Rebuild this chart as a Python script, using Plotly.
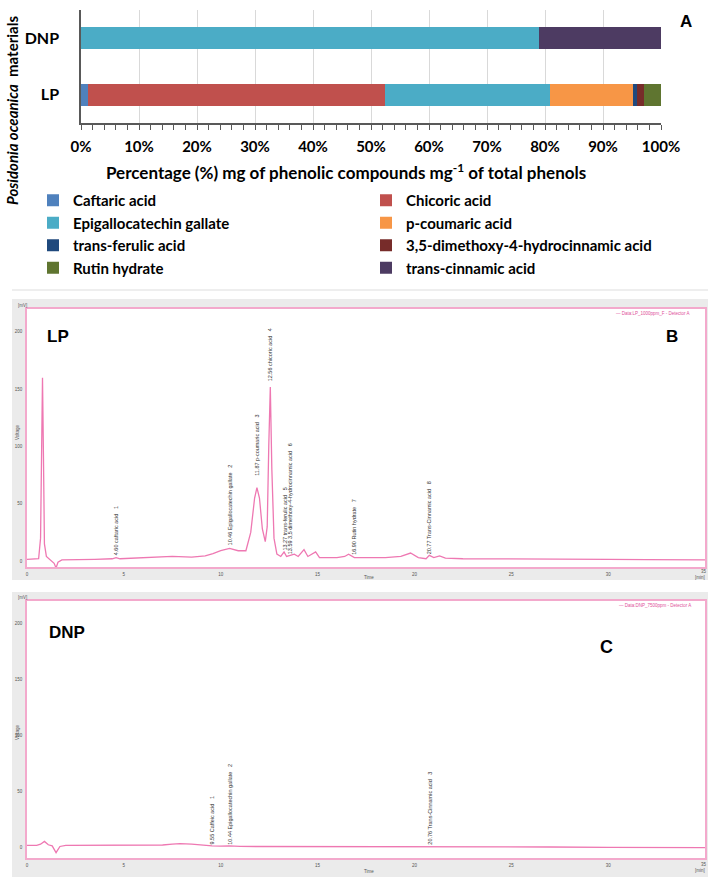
import plotly.graph_objects as go

W, H = 716, 879
def px(x): return x / W
def py(y): return 1 - y / H

# ---------------- Panel A data ----------------
materials = ['LP', 'DNP']
compounds = ['Caftaric acid', 'Chicoric acid', 'Epigallocatechin gallate', 'p-coumaric acid',
             'trans-ferulic acid', '3,5-dimethoxy-4-hydrocinnamic acid', 'Rutin hydrate',
             'trans-cinnamic acid']
caftaric = [1.2, 0.0]
chicoric = [51.2, 0.0]
egcg = [28.5, 79.0]
p_coumaric = [14.2, 0.0]
trans_ferulic = [0.8, 0.0]
dimethoxy = [1.2, 0.0]
rutin = [2.9, 0.0]
trans_cinnamic = [0.0, 21.0]
pct_ticks = [0, 10, 20, 30, 40, 50, 60, 70, 80, 90, 100]

# ---------------- Panel B data (LP chromatogram) ----------------
lp_time = [0, 0.3, 0.6, 0.7, 0.75, 0.8, 0.85, 0.9, 1.0, 1.2, 1.4, 1.5, 1.6, 1.8, 2.5, 3.5, 4.4,
           4.6, 4.8, 5.5, 6.5, 7.5, 8.5, 9.2, 9.6, 10.0, 10.46, 10.9, 11.3, 11.55, 11.75, 11.87,
           12.0, 12.15, 12.3, 12.4, 12.48, 12.56, 12.64, 12.75, 12.9, 13.1, 13.27, 13.4, 13.59,
           13.8, 14.0, 14.3, 14.5, 14.7, 14.9, 15.1, 15.5, 16.0, 16.4, 16.6, 16.9, 17.5, 18.5,
           19.3, 19.8, 20.2, 20.6, 20.77, 21.0, 21.3, 21.6, 22.5, 24, 26, 28, 30, 32, 34, 35]
lp_mv = [1.5, 1.5, 2, 20, 120, 160, 90, 15, 4, 1, -2, -6, -1, 1, 1, 1.5, 2,
         3, 2, 2.5, 3, 4, 3.5, 4.5, 6.5, 9, 11, 9, 9, 25, 55, 64,
         55, 28, 17, 30, 100, 152, 80, 20, 6, 4, 8, 4, 5,
         6, 4, 10, 4, 6, 8, 3, 3, 3, 4, 6, 3, 3, 3,
         4, 7, 3, 2, 5, 3, 4.5, 2.5, 2, 2, 1.5, 1.5, 1.5, 1.2, 1, 1]
lp_peak_times = [4.60, 10.46, 11.87, 12.56, 13.27, 13.59, 16.90, 20.77]
lp_peak_names = ['4.60 caftaric acid', '10.46 Epigallocatechin gallate', '11.87 p-coumaric acid',
                 '12.56 chicoric acid', '13.27 trans-ferulic acid',
                 '13.59 3,5 dimethoxy-4-hydrocinnamic acid', '16.90 Rutin hydrate',
                 '20.77 Trans-Cinnamic acid']
lp_peak_ids = ['1', '2', '3', '4', '5', '6', '7', '8']

# ---------------- Panel C data (DNP chromatogram) ----------------
dnp_time = [0, 0.5, 0.7, 0.9, 1.1, 1.3, 1.5, 1.7, 2.0, 3, 5, 7, 7.5, 7.9, 8.5, 9.0, 9.55,
            10.0, 10.44, 11, 12, 14, 16, 18, 20, 20.76, 21.5, 24, 27, 30, 33, 35]
dnp_mv = [1.5, 1.5, 2.5, 5, 2, 1, -5, 0.5, 1.5, 1.5, 1.5, 1.8, 2.5, 3, 2.5, 1.5, 1,
          0.8, 1, 0.5, 0.5, 0.3, 0.3, 0.3, 0.3, 0.4, 0.2, 0, 0, -0.3, -0.5, -0.5]
dnp_peak_times = [9.55, 10.44, 20.76]
dnp_peak_names = ['9.55 Caffeic acid', '10.44 Epigallocatechin gallate', '20.76 Trans-Cinnamic acid']
dnp_peak_ids = ['1', '2', '3']

mv_ticks = [0, 50, 100, 150, 200]
min_ticks = [0, 5, 10, 15, 20, 25, 30]

# ---------------- styles ----------------
colors = ['#4F81BD', '#C0504D', '#4BACC6', '#F79646', '#1F497D', '#772C2A', '#5F7530', '#4D3B62']
legend_of = ['legend', 'legend2', 'legend', 'legend2', 'legend', 'legend2', 'legend', 'legend2']
series = [caftaric, chicoric, egcg, p_coumaric, trans_ferulic, dimethoxy, rutin, trans_cinnamic]
lp_label_base = [3, 12, 73, 155, 7, 4, 4, 4]
dnp_label_base = [0, 0, 0]
TRACE = '#EE78B2'
FRAME = '#F3A9CC'
BODY = 'Lato'
ARIAL = 'Liberation Sans'

fig = go.Figure()
for name, vals, col, lg in zip(compounds, series, colors, legend_of):
    fig.add_trace(go.Bar(x=vals, y=materials, orientation='h', name=name, legend=lg,
                         marker=dict(color=col, line=dict(width=0)), width=0.39,
                         xaxis='x', yaxis='y'))

fig.add_trace(go.Scatter(x=lp_time, y=lp_mv, mode='lines', line=dict(color=TRACE, width=1.3),
                         showlegend=False, xaxis='x2', yaxis='y2'))
fig.add_trace(go.Scatter(x=dnp_time, y=dnp_mv, mode='lines', line=dict(color=TRACE, width=1.3),
                         showlegend=False, xaxis='x3', yaxis='y3'))

ann = []
for t, n, i, b in zip(lp_peak_times, lp_peak_names, lp_peak_ids, lp_label_base):
    ann.append(dict(x=t, y=b, xref='x2', yref='y2', text=n + '\u00a0\u00a0\u00a0' + i,
                    textangle=-90, xanchor='center', yanchor='bottom', showarrow=False,
                    font=dict(family=ARIAL, size=5.5, color='#333333')))
for t, n, i, b in zip(dnp_peak_times, dnp_peak_names, dnp_peak_ids, dnp_label_base):
    ann.append(dict(x=t, y=b, xref='x3', yref='y3', text=n + '\u00a0\u00a0\u00a0' + i,
                    textangle=-90, xanchor='center', yanchor='bottom', showarrow=False,
                    font=dict(family=ARIAL, size=5.5, color='#333333')))

def pa(x, y, text, size, family=ARIAL, color='#000', angle=0, xanchor='center', bold=True):
    ann.append(dict(x=px(x), y=py(y), xref='paper', yref='paper',
                    text=('<b>%s</b>' % text) if bold else text, textangle=angle,
                    xanchor=xanchor, yanchor='middle', showarrow=False,
                    font=dict(family=family, size=size, color=color)))

pa(686, 21, 'A', 17)
pa(12, 111, '<i>Posidonia oceanica</i>\u00a0\u00a0materials', 15, family=BODY, angle=-90)
pa(346, 172, 'Percentage (%) mg of phenolic compounds mg<sup>-1</sup> of total phenols', 17, family=BODY)
pa(58, 336, 'LP', 17)
pa(672, 336, 'B', 17)
pa(67, 632, 'DNP', 17)
pa(606, 647, 'C', 18)
pa(692, 313, '\u2014 Data:LP_1000ppm_F - Detector A', 4.5, color='#E0509A', xanchor='right', bold=False)
pa(693, 605, '\u2014 Data:DNP_7500ppm - Detector A', 4.5, color='#E0509A', xanchor='right', bold=False)
pa(22, 305, '[mV]', 4.5, color='#555', bold=False)
pa(22, 597, '[mV]', 4.5, color='#555', bold=False)
pa(17, 432, 'Voltage', 4.5, color='#555', angle=-90, bold=False)
pa(17, 732, 'Voltage', 4.5, color='#555', angle=-90, bold=False)
pa(369, 577, 'Time', 4.5, color='#555', bold=False)
pa(369, 871, 'Time', 4.5, color='#555', bold=False)
pa(704, 571, '35', 4.5, color='#555', bold=False)
pa(700, 577.5, '[min]', 4.5, color='#555', bold=False)
pa(704, 864, '35', 4.5, color='#555', bold=False)
pa(700, 870.5, '[min]', 4.5, color='#555', bold=False)

shapes = [
    dict(type='rect', xref='paper', yref='paper', x0=px(12), x1=px(708), y0=py(580), y1=py(299),
         fillcolor='#EBEBEB', line=dict(width=0), layer='below'),
    dict(type='rect', xref='paper', yref='paper', x0=px(27), x1=px(705), y0=py(567), y1=py(309),
         fillcolor='white', line=dict(width=0), layer='below'),
    dict(type='rect', xref='paper', yref='paper', x0=px(12), x1=px(708), y0=py(877), y1=py(592),
         fillcolor='#EBEBEB', line=dict(width=0), layer='below'),
    dict(type='rect', xref='paper', yref='paper', x0=px(27), x1=px(705), y0=py(858), y1=py(601),
         fillcolor='white', line=dict(width=0), layer='below'),
    dict(type='line', xref='paper', yref='paper', x0=px(12), x1=px(708), y0=py(290), y1=py(290),
         line=dict(color='#DDDDDD', width=1)),
]

chrom_x = dict(range=[0, 35], tickvals=min_ticks, showline=True, mirror=True, linecolor=FRAME,
               linewidth=1.5, showgrid=False, zeroline=False, ticks='', automargin=False,
               tickfont=dict(family=ARIAL, size=4.5, color='#555'), ticklabelstandoff=2)
chrom_y = dict(tickvals=mv_ticks, showline=True, mirror=True, linecolor=FRAME, linewidth=1.5,
               showgrid=False, zeroline=False, ticks='', automargin=False,
               tickfont=dict(family=ARIAL, size=4.5, color='#555'), ticklabelstandoff=2)

legend_font = dict(family=BODY, size=15, color='#000', weight='bold')

fig.update_layout(
    width=W, height=H, margin=dict(l=0, r=0, t=0, b=0, autoexpand=False),
    paper_bgcolor='white', plot_bgcolor='rgba(0,0,0,0)',
    barmode='stack', bargap=0.6,
    font=dict(family=BODY, color='#000'),
    xaxis=dict(domain=[px(81), px(661)], range=[0, 100], tickvals=pct_ticks,
               ticktext=['<b>%d%%</b>' % v for v in pct_ticks],
               showgrid=True, gridcolor='#D9D9D9', gridwidth=1, zeroline=False,
               showline=True, linecolor='#595959', linewidth=1.5, automargin=False,
               ticks='outside', ticklen=5, tickcolor='#595959', tickwidth=1,
               minor=dict(dtick=2, ticks='outside', ticklen=5, tickcolor='#595959', showgrid=False),
               tickfont=dict(family=BODY, size=15, color='#000'),
               ticklabelstandoff=4, anchor='y'),
    yaxis=dict(domain=[py(123), py(10)], type='category', categoryorder='array',
               categoryarray=materials, range=[-0.5, 1.5], showline=True, linecolor='#595959',
               linewidth=1.5, showgrid=False, ticks='', zeroline=False, automargin=False,
               tickvals=materials, ticktext=['<b>%s</b>' % m for m in materials],
               tickfont=dict(family=BODY, size=16, color='#000'),
               ticklabelstandoff=17, anchor='x'),
    xaxis2=dict(domain=[px(27), px(705)], anchor='y2', **chrom_x),
    yaxis2=dict(domain=[py(567), py(309)], range=[-5.2, 220], anchor='x2', **chrom_y),
    xaxis3=dict(domain=[px(27), px(705)], anchor='y3', **chrom_x),
    yaxis3=dict(domain=[py(858), py(601)], range=[-9.8, 219.6], anchor='x3', **chrom_y),
    legend=dict(x=px(33), y=py(184), xanchor='left', yanchor='top', orientation='v',
                font=legend_font, bgcolor='rgba(0,0,0,0)', itemclick=False, traceorder='normal'),
    legend2=dict(x=px(366), y=py(184), xanchor='left', yanchor='top', orientation='v',
                 font=legend_font, bgcolor='rgba(0,0,0,0)', itemclick=False, traceorder='normal'),
    annotations=ann, shapes=shapes,
)

fig.write_html('out.html')
